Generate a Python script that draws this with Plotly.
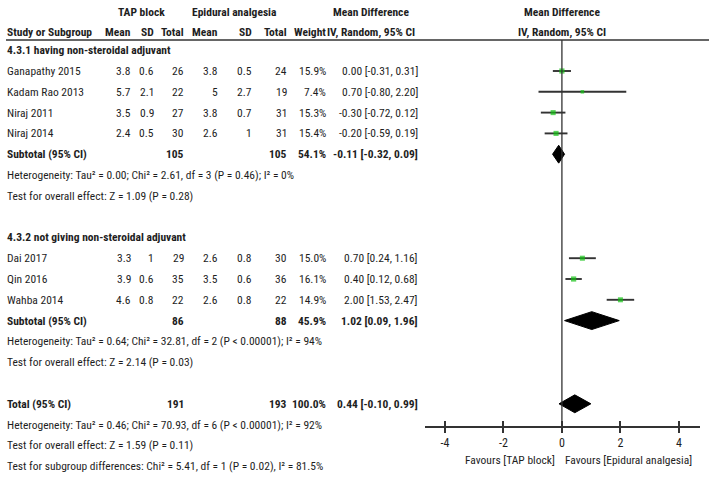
import plotly.graph_objects as go
import math

# ---------------- data ----------------
study = ["Ganapathy 2015", "Kadam Rao 2013", "Niraj 2011", "Niraj 2014",
         "Dai 2017", "Qin 2016", "Wahba 2014"]
tap_mean = [3.8, 5.7, 3.5, 2.4, 3.3, 3.9, 4.6]
tap_sd = [0.6, 2.1, 0.9, 0.5, 1, 0.6, 0.8]
tap_n = [26, 22, 27, 30, 29, 35, 22]
epi_mean = [3.8, 5, 3.8, 2.6, 2.6, 3.5, 2.6]
epi_sd = [0.5, 2.7, 0.7, 1, 0.8, 0.6, 0.8]
epi_n = [24, 19, 31, 31, 30, 36, 22]
weight = [15.9, 7.4, 15.3, 15.4, 15.0, 16.1, 14.9]
md = [0.00, 0.70, -0.30, -0.20, 0.70, 0.40, 2.00]
ci_lo = [-0.31, -0.80, -0.72, -0.59, 0.24, 0.12, 1.53]
ci_hi = [0.31, 2.20, 0.12, 0.19, 1.16, 0.68, 2.47]

group_titles = ["4.3.1 having non-steroidal adjuvant", "4.3.2 not giving non-steroidal adjuvant"]
pooled_label = ["Subtotal (95% CI)", "Subtotal (95% CI)", "Total (95% CI)"]
pooled_tap_n = [105, 86, 191]
pooled_epi_n = [105, 88, 193]
pooled_weight = [54.1, 45.9, 100.0]
pooled_md = [-0.11, 1.02, 0.44]
pooled_lo = [-0.32, 0.09, -0.10]
pooled_hi = [0.09, 1.96, 0.99]

notes_g1 = ["Heterogeneity: Tau² = 0.00; Chi² = 2.61, df = 3 (P = 0.46); I² = 0%",
            "Test for overall effect: Z = 1.09 (P = 0.28)"]
notes_g2 = ["Heterogeneity: Tau² = 0.64; Chi² = 32.81, df = 2 (P < 0.00001); I² = 94%",
            "Test for overall effect: Z = 2.14 (P = 0.03)"]
notes_tot = ["Heterogeneity: Tau² = 0.46; Chi² = 70.93, df = 6 (P < 0.00001); I² = 92%",
             "Test for overall effect: Z = 1.59 (P = 0.11)",
             "Test for subgroup differences: Chi² = 5.41, df = 1 (P = 0.02), I² = 81.5%"]

tick_vals = [-4, -2, 0, 2, 4]
tick_text = ["-4", "-2", "0", "2", "4"]

# ---------------- layout helpers ----------------
W, H = 709, 480
Y0, PITCH = 50.2, 20.8          # pixel of row 0, row pitch
AXIS_PX = 426                   # pixel of x-axis line
FONT = "Roboto Condensed, DejaVu Sans Condensed, sans-serif"
TXT = "#1e1e1e"
FS = 11.5


def ypx(r):
    return Y0 + PITCH * r


def py(px):  # pixel -> paper y
    return 1 - px / H


def px_(x):  # pixel -> paper x
    return x / W


study_rows = [1, 2, 3, 4, 10, 11, 12]
title_rows = [0, 9]
pooled_rows = [5, 13, 17]
note_rows = [[6, 7], [14, 15], [18, 19, 20]]

annotations = []


def add_text(x, row_px, text, anchor="right", bold=False, size=FS):
    annotations.append(dict(
        x=px_(x), y=py(row_px), xref="paper", yref="paper",
        text=f"<b>{text}</b>" if bold else text,
        showarrow=False, xanchor=anchor, yanchor="middle",
        borderpad=0, borderwidth=0,
        font=dict(family=FONT, size=size, color=TXT)))


# column right edges (pixels)
C_STUDY = 7
C_TM, C_TSD, C_TN = 131, 154, 184
C_EM, C_ESD, C_EN = 218, 252, 287
C_W, C_CI = 326, 418

# headers
add_text(141, 12, "TAP block", "center", True)
add_text(234, 12, "Epidural analgesia", "center", True)
add_text(371, 12, "Mean Difference", "center", True)
add_text(562, 12, "Mean Difference", "center", True)
hdr = 32
add_text(C_STUDY, hdr, "Study or Subgroup", "left", True)
for x, t in [(C_TM, "Mean"), (C_TSD, "SD"), (C_TN, "Total"), (C_EM, "Mean"),
             (C_ESD, "SD"), (C_EN, "Total"), (C_W, "Weight")]:
    add_text(x, hdr, t, "right", True)
add_text(371, hdr, "IV, Random, 95% CI", "center", True)
add_text(562, hdr, "IV, Random, 95% CI", "center", True)

for gi, tr in enumerate(title_rows):
    add_text(C_STUDY, ypx(tr), group_titles[gi], "left", True)

for i, s in enumerate(study):
    y = ypx(study_rows[i])
    add_text(C_STUDY, y, s, "left")
    add_text(C_TM, y, f"{tap_mean[i]:g}")
    add_text(C_TSD, y, f"{tap_sd[i]:g}")
    add_text(C_TN, y, f"{tap_n[i]}")
    add_text(C_EM, y, f"{epi_mean[i]:g}")
    add_text(C_ESD, y, f"{epi_sd[i]:g}")
    add_text(C_EN, y, f"{epi_n[i]}")
    add_text(C_W, y, f"{weight[i]:.1f}%")
    add_text(C_CI, y, f"{md[i]:.2f} [{ci_lo[i]:.2f}, {ci_hi[i]:.2f}]")

for k in range(3):
    y = ypx(pooled_rows[k])
    add_text(C_STUDY, y, pooled_label[k], "left", True)
    add_text(C_TN, y, f"{pooled_tap_n[k]}", "right", True)
    add_text(C_EN, y, f"{pooled_epi_n[k]}", "right", True)
    add_text(C_W, y, f"{pooled_weight[k]:.1f}%", "right", True)
    add_text(C_CI, y, f"{pooled_md[k]:.2f} [{pooled_lo[k]:.2f}, {pooled_hi[k]:.2f}]", "right", True)

for notes, rows in zip([notes_g1, notes_g2, notes_tot], note_rows):
    for t, rr in zip(notes, rows):
        add_text(C_STUDY, ypx(rr), t, "left")

# favours labels
annotations.append(dict(x=0, y=py(460), xref="x", yref="paper", text="Favours [TAP block]",
                        showarrow=False, xanchor="right", yanchor="middle", xshift=-6,
                        borderpad=0, font=dict(family=FONT, size=FS, color=TXT)))
annotations.append(dict(x=0, y=py(460), xref="x", yref="paper", text="Favours [Epidural analgesia]",
                        showarrow=False, xanchor="left", yanchor="middle", xshift=2,
                        borderpad=0, font=dict(family=FONT, size=FS, color=TXT)))

# ---------------- traces ----------------
fig = go.Figure()
CI_COL = "#333333"
for i in range(len(study)):
    rr = study_rows[i]
    fig.add_trace(go.Scatter(x=[ci_lo[i], ci_hi[i]], y=[rr, rr], mode="lines",
                             line=dict(color=CI_COL, width=1.9), hoverinfo="skip",
                             showlegend=False))
fig.add_trace(go.Scatter(
    x=md, y=study_rows, mode="markers",
    marker=dict(symbol="square", color="#14c214",
                size=[1.3 * math.sqrt(w) for w in weight], line=dict(width=0)),
    showlegend=False))

HALF = 0.43
for k in range(3):
    rr = pooled_rows[k]
    fig.add_trace(go.Scatter(
        x=[pooled_lo[k], pooled_md[k], pooled_hi[k], pooled_md[k], pooled_lo[k]],
        y=[rr, rr - HALF, rr, rr + HALF, rr],
        mode="lines", fill="toself", fillcolor="black",
        line=dict(color="black", width=1), showlegend=False))

x_dom = [px_(425), px_(700)]
x_rng = [-4.68, 4.72]
y_dom = [py(AXIS_PX), 1]
y_rng = [(AXIS_PX - Y0) / PITCH, -Y0 / PITCH]

shapes = [
    dict(type="line", xref="paper", yref="paper", x0=px_(6), x1=px_(709),
         y0=py(40), y1=py(40), line=dict(color="#333333", width=1.5)),
    dict(type="line", xref="x", yref="paper", x0=0, x1=0, y0=py(AXIS_PX), y1=py(40),
         line=dict(color="#333333", width=1.3)),
]

fig.update_layout(
    width=W, height=H, margin=dict(l=0, r=0, t=0, b=0),
    paper_bgcolor="white", plot_bgcolor="white",
    annotations=annotations, shapes=shapes,
    xaxis=dict(domain=x_dom, range=x_rng, showgrid=False, zeroline=False,
               showline=True, linecolor="#333333", linewidth=1.5,
               ticks="outside", ticklen=5, tickwidth=1.5, tickcolor="#333333",
               tickvals=tick_vals, ticktext=tick_text,
               tickfont=dict(family=FONT, size=12, color=TXT), fixedrange=True),
    xaxis2=dict(domain=x_dom, range=x_rng, overlaying="x", anchor="y", side="bottom",
                showgrid=False, zeroline=False, showline=False,
                ticks="inside", ticklen=5, tickwidth=1.5, tickcolor="#333333",
                tickvals=tick_vals, showticklabels=False, fixedrange=True),
    yaxis=dict(domain=y_dom, range=y_rng, visible=False, showgrid=False,
               zeroline=False, fixedrange=True),
)
fig.add_trace(go.Scatter(x=[0], y=[0], xaxis="x2", yaxis="y", mode="markers",
                         marker=dict(opacity=0), hoverinfo="skip", showlegend=False))

fig.write_html("out.html", config={"displayModeBar": False},
               post_script="document.body.style.margin='0';document.body.style.padding='0';")
